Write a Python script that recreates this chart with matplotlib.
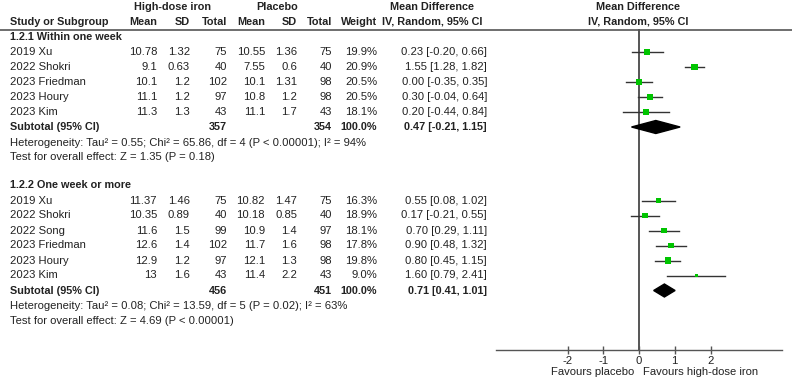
import numpy as np
import matplotlib.pyplot as plt
from matplotlib.patches import Polygon, Rectangle

plt.rcParams['font.family'] = ['Liberation Sans', 'DejaVu Sans']
plt.rcParams['axes.unicode_minus'] = False

# -----------------------------
# Data
# -----------------------------
group_names = ["1.2.1 Within one week", "1.2.2 One week or more"]

studies1 = ["2019 Xu", "2022 Shokri", "2023 Friedman", "2023 Houry", "2023 Kim"]
hd_mean1 = [10.78, 9.1, 10.1, 11.1, 11.3]
hd_sd1 = [1.32, 0.63, 1.2, 1.2, 1.3]
hd_n1 = [75, 40, 102, 97, 43]
pl_mean1 = [10.55, 7.55, 10.1, 10.8, 11.1]
pl_sd1 = [1.36, 0.6, 1.31, 1.2, 1.7]
pl_n1 = [75, 40, 98, 98, 43]
weight1 = [19.9, 20.9, 20.5, 20.5, 18.1]
md1 = [0.23, 1.55, 0.00, 0.30, 0.20]
lo1 = [-0.20, 1.28, -0.35, -0.04, -0.44]
hi1 = [0.66, 1.82, 0.35, 0.64, 0.84]
sub1 = [0.47, -0.21, 1.15]
tot1 = [357, 354]
het1 = "Heterogeneity: Tau\u00b2 = 0.55; Chi\u00b2 = 65.86, df = 4 (P < 0.00001); I\u00b2 = 94%"
test1 = "Test for overall effect: Z = 1.35 (P = 0.18)"

studies2 = ["2019 Xu", "2022 Shokri", "2022 Song", "2023 Friedman", "2023 Houry", "2023 Kim"]
hd_mean2 = [11.37, 10.35, 11.6, 12.6, 12.9, 13]
hd_sd2 = [1.46, 0.89, 1.5, 1.4, 1.2, 1.6]
hd_n2 = [75, 40, 99, 102, 97, 43]
pl_mean2 = [10.82, 10.18, 10.9, 11.7, 12.1, 11.4]
pl_sd2 = [1.47, 0.85, 1.4, 1.6, 1.3, 2.2]
pl_n2 = [75, 40, 97, 98, 98, 43]
weight2 = [16.3, 18.9, 18.1, 17.8, 19.8, 9.0]
md2 = [0.55, 0.17, 0.70, 0.90, 0.80, 1.60]
lo2 = [0.08, -0.21, 0.29, 0.48, 0.45, 0.79]
hi2 = [1.02, 0.55, 1.11, 1.32, 1.15, 2.41]
sub2 = [0.71, 0.41, 1.01]
tot2 = [456, 451]
het2 = "Heterogeneity: Tau\u00b2 = 0.08; Chi\u00b2 = 13.59, df = 5 (P = 0.02); I\u00b2 = 63%"
test2 = "Test for overall effect: Z = 4.69 (P < 0.00001)"

x_ticks = [-2, -1, 0, 1, 2]

# -----------------------------
# Layout (pixels)
# -----------------------------
W, H = 792, 380
fs = 8.1      # plain text
fb = 7.8      # bold text
txt = '#222222'
green = '#00c400'

fig = plt.figure(figsize=(W / 100, H / 100), dpi=100)
ax = fig.add_axes([0, 0, 1, 1])
ax.set_xlim(0, W)
ax.set_ylim(H, 0)
ax.axis('off')

# forest axes: -4..4 mapped to 496..782 px, y in pixels 29..350
fx0, fx1 = 496, 782
fy0, fy1 = 29, 350
xpp = 8.0 / (fx1 - fx0)   # data units per pixel along x
fax = fig.add_axes([fx0 / W, (H - fy1) / H, (fx1 - fx0) / W, (fy1 - fy0) / H])
fax.set_xlim(-4, 4)
fax.set_ylim(fy1, fy0)
fax.patch.set_alpha(0)
for s in ['top', 'right', 'left']:
    fax.spines[s].set_visible(False)
fax.spines['bottom'].set_color('#555555')
fax.spines['bottom'].set_linewidth(1.0)
fax.set_yticks([])
fax.set_xticks(x_ticks)
fax.set_xticklabels([str(t) for t in x_ticks], fontsize=fs, color=txt)
fax.tick_params(axis='x', direction='inout', length=6, width=1, color='#555555', pad=1)
fax.axvline(0, color='#555555', lw=1.4, zorder=1)

# headers
for hx, lab in [(173, "High-dose iron"), (277, "Placebo"), (432, "Mean Difference"), (638, "Mean Difference")]:
    ax.text(hx, 7, lab, ha='center', va='center', fontsize=fb, fontweight='bold', color=txt)
ax.text(432, 22, "IV, Random, 95% CI", ha='center', va='center', fontsize=fb, fontweight='bold', color=txt)
ax.text(638, 22, "IV, Random, 95% CI", ha='center', va='center', fontsize=fb, fontweight='bold', color=txt)
ax.text(10, 22, "Study or Subgroup", ha='left', va='center', fontsize=fb, fontweight='bold', color=txt)

col_x = [157, 190, 227, 265, 297, 332, 377]
for cx, lab in zip(col_x, ["Mean", "SD", "Total", "Mean", "SD", "Total", "Weight"]):
    ax.text(cx, 22, lab, ha='right', va='center', fontsize=fb, fontweight='bold', color=txt)

ax.axhline(29.5, color='#555555', lw=1.2)


def draw_group(y0, name, studies, cols, weights, md, lo, hi, sub, tot, het, test):
    ax.text(10, y0, name, ha='left', va='center', fontsize=fb, fontweight='bold', color=txt)
    y = y0
    for i, st in enumerate(studies):
        y = y0 + 15 * (i + 1)
        ax.text(10, y, st, ha='left', va='center', fontsize=fs, color=txt)
        vals = [f"{c[i]:g}" for c in cols] + [f"{weights[i]:.1f}%"]
        for cx, v in zip(col_x, vals):
            ax.text(cx, y, v, ha='right', va='center', fontsize=fs, color=txt)
        ax.text(487, y, f"{md[i]:.2f} [{lo[i]:.2f}, {hi[i]:.2f}]", ha='right', va='center',
                fontsize=fs, color=txt)
        fax.plot([lo[i], hi[i]], [y, y], color='#333333', lw=1.0, zorder=2)
        side = weights[i] * 0.31   # square side in pixels, scaled by weight
        fax.add_patch(Rectangle((md[i] - side * xpp / 2, y - side / 2), side * xpp, side,
                                facecolor=green, edgecolor='none', zorder=3))
    ys = y + 15
    ax.text(10, ys, "Subtotal (95% CI)", ha='left', va='center', fontsize=fb, fontweight='bold', color=txt)
    ax.text(col_x[2], ys, str(tot[0]), ha='right', va='center', fontsize=fb, fontweight='bold', color=txt)
    ax.text(col_x[5], ys, str(tot[1]), ha='right', va='center', fontsize=fb, fontweight='bold', color=txt)
    ax.text(col_x[6], ys, "100.0%", ha='right', va='center', fontsize=fb, fontweight='bold', color=txt)
    ax.text(487, ys, f"{sub[0]:.2f} [{sub[1]:.2f}, {sub[2]:.2f}]", ha='right', va='center',
            fontsize=fb, fontweight='bold', color=txt)
    dia = Polygon([[sub[1], ys], [sub[0], ys - 6.5], [sub[2], ys], [sub[0], ys + 6.5]],
                  closed=True, color='black', zorder=4)
    fax.add_patch(dia)
    ax.text(10, ys + 15.5, het, ha='left', va='center', fontsize=fs, color=txt)
    ax.text(10, ys + 30.5, test, ha='left', va='center', fontsize=fs, color=txt)


draw_group(37, group_names[0], studies1,
           [hd_mean1, hd_sd1, hd_n1, pl_mean1, pl_sd1, pl_n1], weight1, md1, lo1, hi1,
           sub1, tot1, het1, test1)
draw_group(185.5, group_names[1], studies2,
           [hd_mean2, hd_sd2, hd_n2, pl_mean2, pl_sd2, pl_n2], weight2, md2, lo2, hi2,
           sub2, tot2, het2, test2)

ax.text(634, 372, "Favours placebo", ha='right', va='center', fontsize=fs, color=txt)
ax.text(643, 372, "Favours high-dose iron", ha='left', va='center', fontsize=fs, color=txt)

fig.savefig("out.png", dpi=100)
